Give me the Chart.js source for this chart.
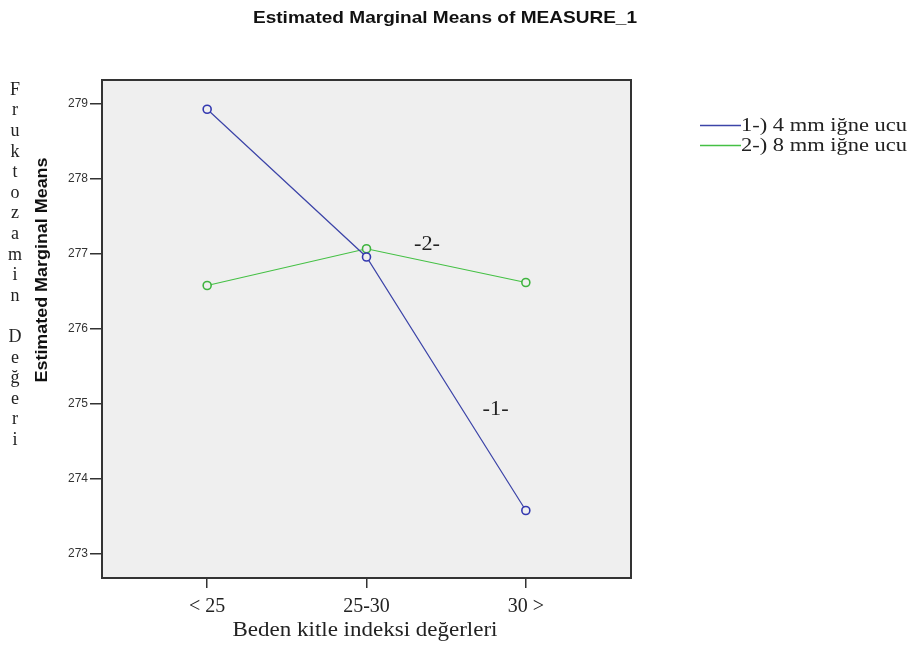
<!DOCTYPE html>
<html>
<head>
<meta charset="utf-8">
<script src="https://cdn.jsdelivr.net/npm/chart.js@4/dist/chart.umd.min.js"></script>
<style>
  html, body { margin: 0; padding: 0; background: #fff; }
  #wrap { width: 911px; height: 653px; position: relative; }
</style>
</head>
<body>
<div id="wrap"><canvas id="emmChart"></canvas></div>
<script>
// kategoriler ve seriler
const categories = ['< 25', '25-30', '30 >'];
const seriesNames = ['1-) 4 mm iğne ucu', '2-) 8 mm iğne ucu'];
const needle4mm = [278.93, 276.96, 273.58];
const needle8mm = [276.58, 277.07, 276.62];
const yTicks = [273, 274, 275, 276, 277, 278, 279];
const lineTags = ['-1-', '-2-'];
const tagX = [1.81, 1.38];
const tagY = [274.93, 277.13];

const serif = "'Liberation Serif', 'Times New Roman', serif";
const sans = "'Liberation Sans', Arial, sans-serif";
const blue = '#3c44a8';
const green = '#44c044';

// yaziyi verilen genislige yatay olarak sigdir
function fitText(ctx, text, x, y, width, align) {
  const w = ctx.measureText(text).width;
  const k = width / w;
  ctx.save();
  ctx.translate(x, y);
  ctx.scale(k, 1);
  ctx.textAlign = align;
  ctx.fillText(text, 0, 0);
  ctx.restore();
}

const spssLook = {
  id: 'spssLook',
  beforeDraw(chart) {
    const { ctx, chartArea: a } = chart;
    ctx.save();
    ctx.fillStyle = '#efefef';
    ctx.fillRect(a.left, a.top, a.right - a.left, a.bottom - a.top);
    ctx.restore();
  },
  afterDraw(chart) {
    const { ctx, chartArea: a, scales } = chart;
    ctx.save();
    // cerceve
    ctx.strokeStyle = '#333';
    ctx.lineWidth = 2;
    ctx.strokeRect(a.left, a.top, a.right - a.left, a.bottom - a.top);

    // baslik
    ctx.fillStyle = '#111';
    ctx.textBaseline = 'middle';
    ctx.font = 'bold 17px ' + sans;
    fitText(ctx, 'Estimated Marginal Means of MEASURE_1', 445, 18, 384, 'center');

    // dikey eksen basligi
    ctx.save();
    ctx.translate(42, 270);
    ctx.rotate(-Math.PI / 2);
    ctx.font = 'bold 17px ' + sans;
    fitText(ctx, 'Estimated Marginal Means', 0, 0, 225, 'center');
    ctx.restore();

    // soldaki harf harf yazi
    ctx.textAlign = 'center';
    ctx.font = '18px ' + serif;
    ctx.fillStyle = '#222';
    const word = 'Fruktozamin Değeri';
    for (let i = 0; i < word.length; i++) {
      ctx.fillText(word[i], 15, 90 + i * 20.6);
    }

    // x ekseni basligi
    ctx.font = '20px ' + serif;
    fitText(ctx, 'Beden kitle indeksi değerleri', 365, 631, 265, 'center');

    // cizgi etiketleri
    ctx.font = '20px ' + serif;
    for (let i = 0; i < lineTags.length; i++) {
      fitText(ctx, lineTags[i], scales.x.getPixelForValue(tagX[i]), scales.y.getPixelForValue(tagY[i]), 26, 'center');
    }

    // lejant
    const colors = [blue, green];
    ctx.font = '19px ' + serif;
    for (let i = 0; i < seriesNames.length; i++) {
      const y = 125 + i * 20;
      ctx.strokeStyle = colors[i];
      ctx.lineWidth = 1.3;
      ctx.beginPath();
      ctx.moveTo(700, y + 0.5);
      ctx.lineTo(741, y + 0.5);
      ctx.stroke();
      ctx.fillStyle = '#222';
      fitText(ctx, seriesNames[i], 741, y + 1, 166, 'left');
    }
    ctx.restore();
  }
};

const toPoints = arr => arr.map((v, i) => ({ x: i, y: v }));

new Chart(document.getElementById('emmChart'), {
  type: 'line',
  data: {
    datasets: [
      {
        label: seriesNames[0],
        data: toPoints(needle4mm),
        borderColor: blue,
        borderWidth: 1.2,
        pointRadius: 4,
        pointBorderWidth: 1.6,
        pointBackgroundColor: '#efefef',
        pointBorderColor: '#3338b0'
      },
      {
        label: seriesNames[1],
        data: toPoints(needle8mm),
        borderColor: green,
        borderWidth: 1.2,
        pointRadius: 4,
        pointBorderWidth: 1.6,
        pointBackgroundColor: '#efefef',
        pointBorderColor: '#3fb43f'
      }
    ]
  },
  options: {
    responsive: true,
    maintainAspectRatio: false,
    animation: false,
    layout: { padding: { top: 80, right: 280, left: 0, bottom: 0 } },
    plugins: { legend: { display: false }, tooltip: { enabled: false } },
    scales: {
      x: {
        type: 'linear',
        min: -0.66,
        max: 2.66,
        afterBuildTicks: s => { s.ticks = categories.map((c, i) => ({ value: i })); },
        afterFit: s => { s.height = 75; },
        border: { display: false },
        grid: { drawOnChartArea: false, drawTicks: true, tickLength: 10, color: '#333', lineWidth: 1.5 },
        ticks: {
          padding: 7,
          color: '#222',
          font: { family: serif, size: 20 },
          callback: v => categories[v]
        }
      },
      y: {
        min: 272.68,
        max: 279.32,
        afterBuildTicks: s => { s.ticks = yTicks.map(v => ({ value: v })); },
        afterFit: s => { s.width = 102; },
        border: { display: false },
        grid: { drawOnChartArea: false, drawTicks: true, tickLength: 12, color: '#333', lineWidth: 1.5 },
        ticks: {
          padding: 2,
          color: '#333',
          font: { family: "'Liberation Sans Narrow', " + sans, size: 12 }
        }
      }
    }
  },
  plugins: [spssLook]
});
</script>
</body>
</html>
